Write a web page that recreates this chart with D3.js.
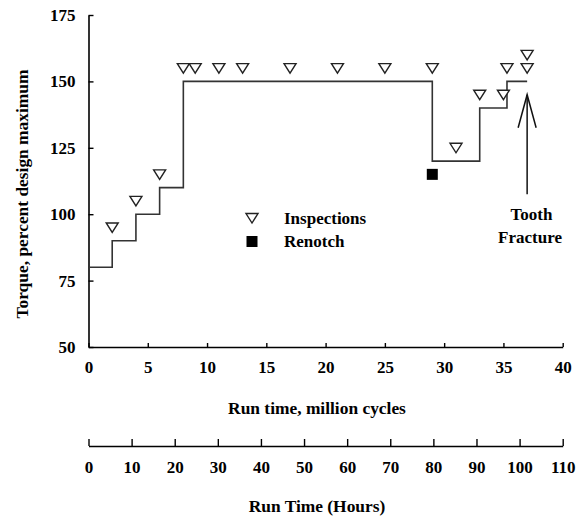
<!DOCTYPE html>
<html><head><meta charset="utf-8">
<script src="https://cdn.jsdelivr.net/npm/d3@7"></script>
<style>
html,body{margin:0;padding:0;background:#fff;}
svg text{font-family:"Liberation Serif","Times New Roman",serif;font-weight:bold;fill:#000;}
</style></head>
<body>
<script>
// Torque load steps (million cycles, percent of design maximum)
const stepX = [0, 2, 4, 6, 8, 29, 33, 35.3, 37];
const stepY = [80, 90, 100, 110, 150, 120, 140, 150, 150];
// Inspections
const inspX = [2, 4, 6, 8, 9, 11, 13, 17, 21, 25, 29, 31, 33, 35, 35.3, 37, 37];
const inspY = [95, 105, 115, 155, 155, 155, 155, 155, 155, 155, 155, 125, 145, 145, 155, 155, 160];
// Renotch
const renX = [29];
const renY = [115];
// Ticks
const yTicks = [50, 75, 100, 125, 150, 175];
const xTicks = [0, 5, 10, 15, 20, 25, 30, 35, 40];
const hTicks = [0, 10, 20, 30, 40, 50, 60, 70, 80, 90, 100, 110];
// Arrow annotation (x, tip y, tail y)
const arrowX = 37, arrowTip = 145, arrowTail = 107.5;

const W = 578, H = 519;
const FS = 17;
const svg = d3.select("body").append("svg").attr("width", W).attr("height", H);

const x = d3.scaleLinear().domain([0, 40]).range([88.5, 562.7]);
const y = d3.scaleLinear().domain([50, 175]).range([347, 15]);
const xh = d3.scaleLinear().domain([0, 110]).range([88.5, 562.7]);

function styleAxis(g){
  g.selectAll("path.domain").attr("stroke","#000").attr("stroke-width",1.6);
  g.selectAll(".tick line").attr("stroke","#000").attr("stroke-width",1.4);
  g.selectAll("text").attr("font-size",FS).attr("font-family",'"Liberation Serif",serif').attr("font-weight","bold");
}

// Left axis
svg.append("g").attr("transform",`translate(${x(0)},0)`)
  .call(d3.axisLeft(y).tickValues(yTicks).tickSizeInner(-5).tickSizeOuter(0).tickPadding(13))
  .call(styleAxis);

// Bottom axis (million cycles)
svg.append("g").attr("transform",`translate(0,${y(50)})`)
  .call(d3.axisBottom(x).tickValues(xTicks).tickSizeInner(-4).tickSizeOuter(0).tickPadding(14))
  .call(styleAxis);

// Hours axis
svg.append("g").attr("transform",`translate(0,446)`)
  .call(d3.axisBottom(xh).tickValues(hTicks).tickSizeInner(-7).tickSizeOuter(0).tickPadding(15))
  .call(styleAxis);

// Step line
const pts = stepX.map((d,i)=>[d, stepY[i]]);
svg.append("path")
  .attr("d", d3.line().x(d=>x(d[0])).y(d=>y(d[1])).curve(d3.curveStepAfter)(pts))
  .attr("fill","none").attr("stroke","#333").attr("stroke-width",1.6);

// Inspection triangles (down-pointing)
const tri = "M-6,-4.5 L6,-4.5 L0,5 Z";
svg.selectAll("path.insp").data(inspX.map((d,i)=>({x:d,y:inspY[i]}))).enter()
  .append("path").attr("class","insp")
  .attr("d", tri)
  .attr("transform", d=>`translate(${x(d.x)},${y(d.y)})`)
  .attr("fill","#fff").attr("stroke","#222").attr("stroke-width",1.4);

// Renotch squares
svg.selectAll("rect.ren").data(renX.map((d,i)=>({x:d,y:renY[i]}))).enter()
  .append("rect").attr("class","ren")
  .attr("x", d=>x(d.x)-5.5).attr("y", d=>y(d.y)-5.5)
  .attr("width",11).attr("height",11).attr("fill","#000");

// Legend
const lg = svg.append("g");
lg.append("path").attr("d", tri).attr("transform","translate(252,218)")
  .attr("fill","#fff").attr("stroke","#222").attr("stroke-width",1.4);
lg.append("text").attr("x",284).attr("y",223.5).attr("font-size",FS).text("Inspections");
lg.append("rect").attr("x",246.5).attr("y",236).attr("width",11).attr("height",11).attr("fill","#000");
lg.append("text").attr("x",284).attr("y",247).attr("font-size",FS).text("Renotch");

// Arrow
const ax = x(arrowX);
svg.append("line").attr("x1",ax).attr("x2",ax).attr("y1",y(arrowTip)).attr("y2",y(arrowTail))
  .attr("stroke","#111").attr("stroke-width",1.5);
svg.append("path").attr("d",`M${ax-9},${y(arrowTip)+33} L${ax},${y(arrowTip)} L${ax+9},${y(arrowTip)+33}`)
  .attr("fill","none").attr("stroke","#111").attr("stroke-width",1.5);
svg.append("text").attr("x",531.5).attr("y",220).attr("text-anchor","middle").attr("font-size",FS).text("Tooth");
svg.append("text").attr("x",530).attr("y",243).attr("text-anchor","middle").attr("font-size",FS).text("Fracture");

// Axis titles
svg.append("text").attr("x",317).attr("y",414).attr("text-anchor","middle").attr("font-size",17.4).text("Run time, million cycles");
svg.append("text").attr("x",317).attr("y",512).attr("text-anchor","middle").attr("font-size",17.4).text("Run Time (Hours)");
svg.append("text").attr("transform","translate(28,194) rotate(-90)").attr("text-anchor","middle").attr("font-size",17.4).text("Torque, percent design maximum");
</script>
</body></html>
